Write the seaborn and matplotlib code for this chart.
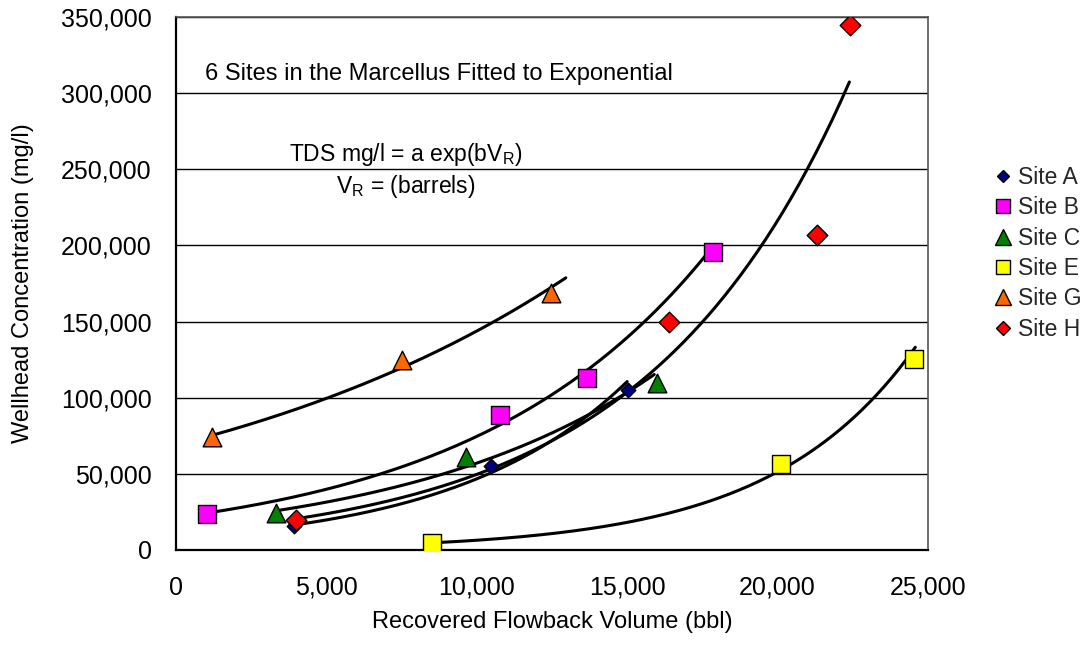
import numpy as np
import pandas as pd
import matplotlib
matplotlib.use("Agg")
import matplotlib.pyplot as plt
import seaborn as sns
from matplotlib.lines import Line2D

sns.set_theme(style="white")
plt.rcParams['font.family'] = ['Liberation Sans', 'DejaVu Sans']
plt.rcParams['mathtext.fontset'] = 'custom'
plt.rcParams['mathtext.rm'] = 'Liberation Sans'

# ---- data ----
sites = ["Site A", "Site B", "Site C", "Site E", "Site G", "Site H"]
site_a_x = [3920, 10460, 15020]
site_a_y = [15800, 55300, 105300]
site_b_x = [1030, 10760, 13650, 17840]
site_b_y = [23700, 88800, 113200, 196000]
site_c_x = [3320, 9630, 15980]
site_c_y = [24300, 61200, 109900]
site_e_x = [8500, 20130, 24550]
site_e_y = [4600, 56600, 125700]
site_g_x = [1200, 7500, 12460]
site_g_y = [74000, 124500, 168500]
site_h_x = [3990, 16380, 21300, 22420]
site_h_y = [19700, 150000, 206600, 344700]
# extent of each fitted curve (bbl)
curve_start = [3920, 1030, 3320, 8600, 1200, 3990]
curve_end = [15000, 17840, 15900, 24580, 12960, 22390]

xs = [site_a_x, site_b_x, site_c_x, site_e_x, site_g_x, site_h_x]
ys = [site_a_y, site_b_y, site_c_y, site_e_y, site_g_y, site_h_y]

colors = ["#000080", "#FF00FF", "#008000", "#FFFF00", "#FF6600", "#FF0000"]
markers = ["D", "s", "^", "s", "^", "D"]
msizes = [55, 150, 180, 150, 180, 110]
leg_sizes = [6.5, 9.5, 11, 9.5, 11, 7.5]

fig = plt.figure(figsize=(10.84, 6.45), dpi=100)
ax = fig.add_axes([0.1624, 0.1473, 0.6936, 0.8263])

# fitted exponential curves (least squares on ln y, as a trendline)
for i, s in enumerate(sites):
    b, lna = np.polyfit(np.array(xs[i], float), np.log(np.array(ys[i], float)), 1)
    cx = np.linspace(curve_start[i], curve_end[i], 200)
    cdf = pd.DataFrame({"x": cx, "y": np.exp(lna + b * cx)})
    sns.lineplot(data=cdf, x="x", y="y", ax=ax, color="black", lw=2.2,
                 zorder=3, legend=False)

for i, s in enumerate(sites):
    df = pd.DataFrame({"x": xs[i], "y": ys[i]})
    sns.scatterplot(data=df, x="x", y="y", ax=ax, marker=markers[i],
                    s=msizes[i], color=colors[i], edgecolor="black",
                    linewidth=1.0, zorder=4, legend=False)

ax.set_xlim(0, 25000)
ax.set_ylim(0, 350000)
ax.set_xticks(np.arange(0, 25001, 5000))
ax.set_yticks(np.arange(0, 350001, 50000))
ax.xaxis.set_major_formatter(matplotlib.ticker.FuncFormatter(lambda v, p: f"{int(v):,}"))
ax.yaxis.set_major_formatter(matplotlib.ticker.FuncFormatter(lambda v, p: f"{int(v):,}"))
ax.tick_params(axis="both", labelsize=18, direction="out", length=6.5,
               width=1.2, color="black", labelcolor="black")
ax.tick_params(axis="y", pad=11)
ax.tick_params(axis="x", pad=12)
ax.yaxis.grid(True, color="black", lw=1.0)
ax.set_axisbelow(True)
for sp in ["left", "bottom"]:
    ax.spines[sp].set_color("black")
    ax.spines[sp].set_linewidth(1.6)
for sp in ["top", "right"]:
    ax.spines[sp].set_color("#555555")
    ax.spines[sp].set_linewidth(1.2)

ax.set_xlabel("Recovered Flowback Volume (bbl)", fontsize=17, labelpad=8, color="black")
ax.set_ylabel("Wellhead Concentration (mg/l)", fontsize=17, labelpad=19, color="black")

ax.text(960, 312500, "6 Sites in the Marcellus Fitted to Exponential",
        fontsize=17, ha="left", va="center", color="black")
ax.text(7640, 260000, r"TDS mg/l = a exp(bV$_\mathregular{R}$)",
        fontsize=16.5, ha="center", va="center", color="black")
ax.text(7640, 239000, r"V$_\mathregular{R}$ = (barrels)",
        fontsize=16.5, ha="center", va="center", color="black")

handles = [Line2D([], [], ls="none", marker=markers[i], markersize=leg_sizes[i],
                  markerfacecolor=colors[i], markeredgecolor="black",
                  markeredgewidth=1.0, label=s) for i, s in enumerate(sites)]
fig.legend(handles=handles, loc="center left", bbox_to_anchor=(0.917, 0.607),
           frameon=False, fontsize=16.5, handletextpad=0.25, labelspacing=0.32,
           handlelength=0.8, borderaxespad=0, borderpad=0)

fig.savefig("out.png", dpi=100)
